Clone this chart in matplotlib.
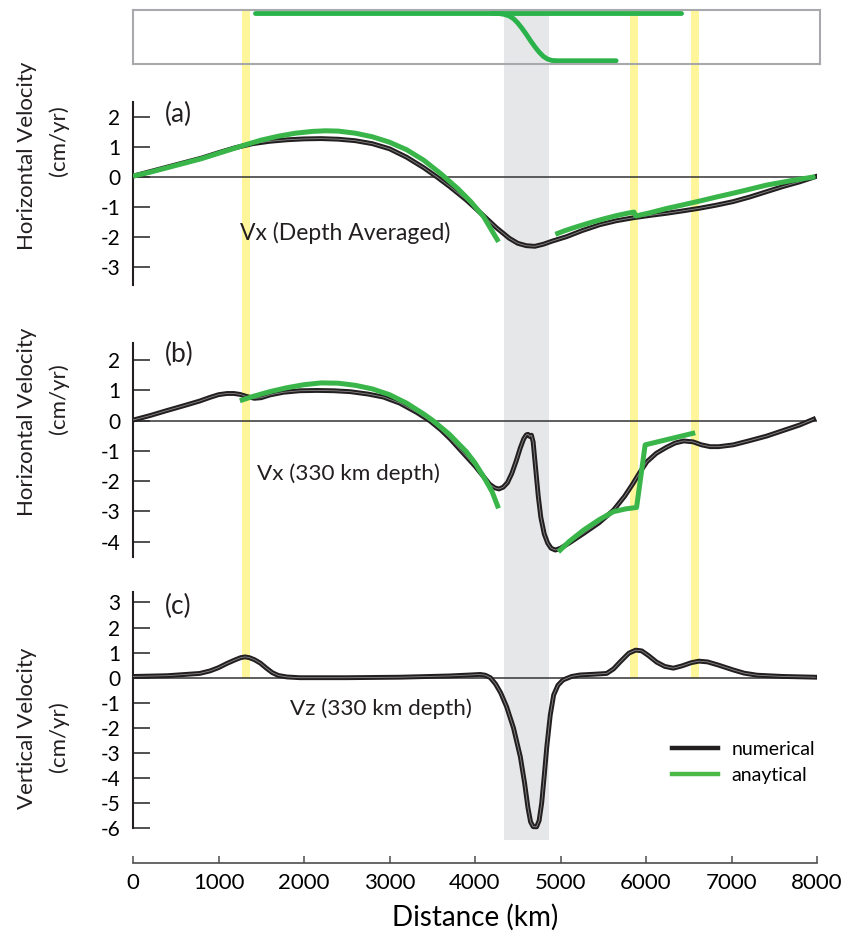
import matplotlib.pyplot as plt
from matplotlib.lines import Line2D

plt.rcParams['font.family'] = ['Lato', 'DejaVu Sans']
plt.rcParams['axes.unicode_minus'] = False

# ---------------------------
# data (distance in km, velocity in cm/yr)
# ---------------------------

# slab sketch on top (normalised height inside the box)
slab_top_x = [1430, 6410]
slab_top_y = [0.94, 0.94]
slab_dip_x = [4200, 4280, 4340, 4400, 4450, 4500, 4550, 4600, 4650, 4700, 4750, 4800, 4850,
              4900, 4970, 5650]
slab_dip_y = [0.94, 0.935, 0.92, 0.89, 0.84, 0.76, 0.66, 0.55, 0.43, 0.32, 0.22, 0.14, 0.09,
              0.065, 0.06, 0.06]

# highlighted locations
yellow_km = [1320, 5860, 6570]
yellow_width = 90
trench_km = [4345, 4865]

# (a) depth averaged Vx
a_num_x = [0, 200, 400, 600, 800, 1000, 1200, 1400, 1600, 1800, 2000, 2200, 2400, 2600,
           2800, 3000, 3200, 3400, 3550, 3700, 3900, 4100, 4250, 4400, 4500, 4600, 4700,
           4800, 4900, 5070, 5250, 5460, 5650, 5850, 6050, 6240, 6430, 6630, 6820, 7020,
           7210, 7410, 7600, 7800, 7980]
a_num_y = [0.02, 0.17, 0.32, 0.47, 0.62, 0.8, 0.97, 1.1, 1.18, 1.23, 1.26, 1.27, 1.25, 1.2,
           1.1, 0.93, 0.65, 0.3, 0.0, -0.32, -0.78, -1.3, -1.7, -2.05, -2.22, -2.3, -2.32,
           -2.25, -2.15, -2.0, -1.8, -1.6, -1.47, -1.37, -1.29, -1.22, -1.14, -1.05, -0.95,
           -0.83, -0.68, -0.5, -0.33, -0.17, 0.0]
a_ana1_x = [0, 200, 400, 600, 800, 1000, 1300, 1500, 1700, 1900, 2100, 2250, 2400, 2600,
            2800, 3000, 3200, 3400, 3600, 3800, 3950, 4100, 4275]
a_ana1_y = [0.02, 0.15, 0.3, 0.45, 0.6, 0.78, 1.05, 1.22, 1.35, 1.45, 1.51, 1.53, 1.52, 1.45,
            1.33, 1.15, 0.9, 0.55, 0.1, -0.4, -0.83, -1.33, -2.17]
a_ana2_x = [4940, 5050, 5200, 5350, 5500, 5650, 5780, 5860, 5880, 6050, 6240, 6430, 6630,
            6820, 7020, 7210, 7410, 7700, 7980]
a_ana2_y = [-1.92, -1.8, -1.66, -1.53, -1.41, -1.3, -1.22, -1.18, -1.31, -1.2, -1.06, -0.94,
            -0.81, -0.68, -0.55, -0.42, -0.28, -0.13, 0.0]

# (b) Vx at 330 km depth
b_num_x = [0, 200, 390, 600, 780, 900, 1000, 1100, 1180, 1250, 1330, 1420, 1500, 1600, 1760,
           1950, 2150, 2350, 2540, 2750, 2930, 3120, 3320, 3470, 3600, 3710, 3900, 4000, 4100,
           4170, 4230, 4280, 4330, 4380, 4430, 4480, 4530, 4570, 4600, 4620, 4640, 4660, 4680,
           4710, 4740, 4770, 4810, 4850, 4890, 4940, 5000, 5100, 5270, 5450, 5620, 5750, 5850,
           5930, 6010, 6120, 6240, 6340, 6440, 6550, 6650, 6750, 6850, 7020, 7200, 7410, 7600,
           7800, 7960]
b_num_y = [0.02, 0.17, 0.33, 0.5, 0.65, 0.77, 0.86, 0.9, 0.9, 0.87, 0.8, 0.74, 0.76, 0.85,
           0.94, 0.99, 1.0, 0.99, 0.96, 0.88, 0.78, 0.58, 0.27, 0.0, -0.3, -0.6, -1.19, -1.5,
           -1.85, -2.1, -2.22, -2.26, -2.2, -2.05, -1.75, -1.35, -0.9, -0.6, -0.47, -0.45,
           -0.52, -0.48, -0.7, -1.6, -2.5, -3.2, -3.75, -4.05, -4.22, -4.28, -4.22, -4.05,
           -3.73, -3.38, -2.96, -2.5, -2.07, -1.7, -1.36, -1.08, -0.88, -0.74, -0.67, -0.7,
           -0.8, -0.86, -0.86, -0.8, -0.67, -0.51, -0.33, -0.14, 0.05]
b_ana1_x = [1250, 1400, 1600, 1800, 2000, 2200, 2400, 2600, 2800, 3000, 3200, 3400, 3510,
            3700, 3900, 4000, 4100, 4200, 4275]
b_ana1_y = [0.66, 0.8, 0.96, 1.09, 1.19, 1.25, 1.24, 1.17, 1.05, 0.86, 0.58, 0.22, 0.0,
            -0.45, -1.03, -1.4, -1.85, -2.35, -2.9]
b_ana2_x = [4975, 5100, 5270, 5450, 5620, 5760, 5890, 5990, 6575]
b_ana2_y = [-4.34, -4.0, -3.62, -3.28, -3.01, -2.92, -2.87, -0.8, -0.4]

# (c) Vz at 330 km depth
c_num_x = [0, 400, 780, 900, 1000, 1100, 1200, 1260, 1310, 1360, 1420, 1490, 1560, 1630,
           1700, 1800, 1950, 2500, 3120, 3700, 3950, 4060, 4120, 4180, 4240, 4300, 4370,
           4450, 4530, 4580, 4620, 4650, 4680, 4720, 4750, 4780, 4810, 4840, 4880, 4920,
           4970, 5030, 5130, 5230, 5400, 5540, 5620, 5700, 5800, 5880, 5950, 6030, 6125,
           6220, 6320, 6420, 6530, 6620, 6720, 6850, 7020, 7150, 7300, 7600, 7980]
c_num_y = [0.05, 0.08, 0.17, 0.27, 0.4, 0.57, 0.72, 0.8, 0.83, 0.8, 0.72, 0.58, 0.38, 0.2,
           0.09, 0.03, 0.0, 0.0, 0.02, 0.07, 0.11, 0.13, 0.1, 0.0, -0.25, -0.6, -1.16, -2.0,
           -3.15, -4.2, -5.2, -5.75, -5.94, -5.95, -5.7, -5.0, -3.9, -2.75, -1.5, -0.69,
           -0.3, -0.09, 0.05, 0.11, 0.14, 0.17, 0.35, 0.64, 0.98, 1.1, 1.07, 0.88, 0.62,
           0.45, 0.38, 0.47, 0.6, 0.66, 0.63, 0.5, 0.31, 0.18, 0.1, 0.05, 0.02]

# ---------------------------
# layout helpers (pixels)
# ---------------------------
W, H = 852, 936
BLACK = '#231f20'
GREEN = '#39b54a'


def box(x0, y0, x1, y1):
    return [x0 / W, 1 - y1 / H, (x1 - x0) / W, (y1 - y0) / H]


def numerical(ax, x, y):
    ax.plot(x, y, color=BLACK, lw=3.5, solid_joinstyle='round', zorder=3)
    ax.plot(x, y, color='#8a8a8a', lw=0.6, zorder=3.1)


def analytical(ax, x, y):
    ax.plot(x, y, color=GREEN, lw=3.6, solid_capstyle='butt', zorder=4)


def panel(y0, y1, lo, hi, ticks):
    ax = fig.add_axes(box(133, y0, 817, y1), zorder=2)
    ax.set_facecolor('none')
    ax.set_xlim(0, 8000)
    ax.set_ylim(lo, hi)
    for s in ['top', 'right', 'bottom']:
        ax.spines[s].set_visible(False)
    ax.spines['left'].set_color(BLACK)
    ax.spines['left'].set_linewidth(1.5)
    ax.axhline(0, color='#333333', lw=1.1, zorder=2)
    ax.set_yticks(ticks)
    ax.tick_params(axis='y', direction='in', length=12, width=1.1, pad=9,
                   labelsize=15, color=BLACK)
    ax.tick_params(axis='x', bottom=False, labelbottom=False)
    return ax


fig = plt.figure(figsize=(W / 100, H / 100), dpi=100)

# background bands shared by all panels
bg = fig.add_axes(box(133, 0, 817, 936), zorder=0)
bg.set_xlim(0, 8000)
bg.set_ylim(0, 1)
bg.axis('off')
for c in yellow_km:
    bg.axvspan(c - yellow_width / 2, c + yellow_width / 2, ymin=1 - 678 / H, ymax=1 - 10 / H,
               color='#fff59a', lw=0)
bg.axvspan(trench_km[0], trench_km[1], ymin=1 - 840 / H, ymax=1 - 14 / H, color='#e6e7e8', lw=0)

# slab sketch
sk = fig.add_axes(box(133, 10, 820, 64), zorder=1)
sk.set_facecolor('none')
sk.set_xlim(0, 8000 * 687 / 684)
sk.set_ylim(0, 1)
sk.set_xticks([])
sk.set_yticks([])
for s in sk.spines.values():
    s.set_color('#a7a9ac')
    s.set_linewidth(1.5)
sk.plot(slab_top_x, slab_top_y, color='#2bb34b', lw=3.5, solid_capstyle='round')
sk.plot(slab_dip_x, slab_dip_y, color='#2bb34b', lw=3.5, solid_capstyle='round',
        solid_joinstyle='round')

# (a)
ax_a = panel(101.7, 285, -3.61, 2.5, range(-3, 3))
numerical(ax_a, a_num_x, a_num_y)
analytical(ax_a, a_ana1_x, a_ana1_y)
analytical(ax_a, a_ana2_x, a_ana2_y)
ax_a.text(374, 2.06, '(a)', fontsize=19, va='center', color=BLACK)
ax_a.text(1251, -1.88, 'Vx (Depth Averaged)', fontsize=16.5, va='center', color=BLACK)

# (b)
ax_b = panel(343.3, 556.7, -4.5, 2.56, range(-4, 3))
numerical(ax_b, b_num_x, b_num_y)
analytical(ax_b, b_ana1_x, b_ana1_y)
analytical(ax_b, b_ana2_x, b_ana2_y)
ax_b.text(374, 2.18, '(b)', fontsize=19, va='center', color=BLACK)
ax_b.text(1447, -1.74, 'Vx (330 km depth)', fontsize=16.2, va='center', color=BLACK)

# (c)
ax_c = panel(591.7, 863, -7.39, 3.43, range(-6, 4))
ax_c.spines['left'].set_bounds(-6, 3.43)
ax_c.spines['bottom'].set_visible(True)
ax_c.spines['bottom'].set_color('#4d4d4d')
ax_c.spines['bottom'].set_linewidth(1.2)
numerical(ax_c, c_num_x, c_num_y)
ax_c.text(374, 2.86, '(c)', fontsize=19, va='center', color=BLACK)
ax_c.text(1836, -1.22, 'Vz (330 km depth)', fontsize=16.2, va='center', color=BLACK)
ax_c.set_xticks(range(0, 8001, 1000))
ax_c.tick_params(axis='x', bottom=True, labelbottom=True, direction='in', length=5,
                 width=1.1, pad=7, labelsize=16, color='#4d4d4d')
ax_c.set_xlabel('Distance (km)', fontsize=20, labelpad=8)

handles = [Line2D([], [], color=BLACK, lw=3.2), Line2D([], [], color='#4cb848', lw=3.2)]
ax_c.legend(handles, ['numerical', 'anaytical'], loc='upper left',
            bbox_to_anchor=(0.788, 0.45), frameon=False, fontsize=14,
            handlelength=2.37, handletextpad=0.7, labelspacing=0.45,
            borderpad=0, borderaxespad=0)

# y axis titles
fig.text(27 / W, 1 - 155.5 / H, 'Horizontal Velocity', rotation=90, fontsize=16,
         ha='center', va='center', color=BLACK)
fig.text(59 / W, 1 - 141 / H, '(cm/yr)', rotation=90, fontsize=16,
         ha='center', va='center', color=BLACK)
fig.text(27 / W, 1 - 421.7 / H, 'Horizontal Velocity', rotation=90, fontsize=16,
         ha='center', va='center', color=BLACK)
fig.text(59 / W, 1 - 399 / H, '(cm/yr)', rotation=90, fontsize=16,
         ha='center', va='center', color=BLACK)
fig.text(27 / W, 1 - 728 / H, 'Vertical Velocity', rotation=90, fontsize=16,
         ha='center', va='center', color=BLACK)
fig.text(59 / W, 1 - 737 / H, '(cm/yr)', rotation=90, fontsize=16,
         ha='center', va='center', color=BLACK)

plt.savefig('out.png', dpi=100)
